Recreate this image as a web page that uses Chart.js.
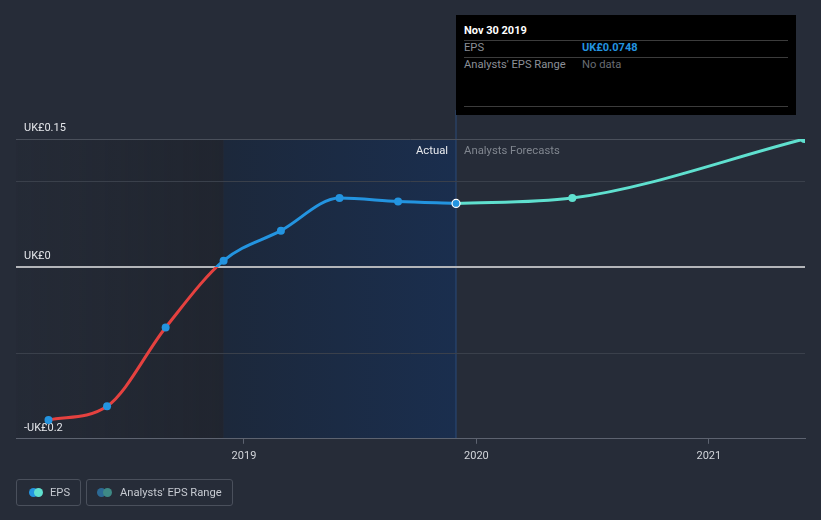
<!DOCTYPE html>
<html>
<head>
<meta charset="utf-8">
<script src="https://cdn.jsdelivr.net/npm/chart.js@4.4.0/dist/chart.umd.min.js"></script>
<style>
body { margin: 0; background: #262c38; font-family: Roboto, sans-serif; }
#wrap { position: relative; width: 821px; height: 520px; overflow: hidden; }
#graph { position: absolute; left: 0; top: 0; }
#tip { position: absolute; left: 456px; top: 15px; width: 340px; height: 100px; background: #000; }
#tip div { position: absolute; font-size: 11.2px; line-height: 14px; white-space: nowrap; }
#tip .sep { left: 8px; width: 324px; height: 1px; background: #3c3c3c; }
.lg { position: absolute; top: 479px; height: 27px; box-sizing: border-box; border: 1px solid #4a505c; border-radius: 3px; }
.lg span { position: absolute; top: 6px; font-size: 11.2px; line-height: 14px; color: #c6cad1; white-space: nowrap; }
.dot { position: absolute; top: 8px; width: 9px; height: 9px; border-radius: 50%; }
</style>
</head>
<body>
<div id="wrap">
  <canvas id="graph" width="821" height="520"></canvas>
  <div id="tip">
    <div style="left:8px;top:9px;color:#fff;font-weight:bold;font-size:11px;">Nov 30 2019</div>
    <div class="sep" style="top:25px"></div>
    <div style="left:8px;top:26px;color:#8b8f97;">EPS</div>
    <div id="tipValue" style="left:126px;top:26px;color:#2394e0;font-weight:bold;font-size:11px;"></div>
    <div class="sep" style="top:42px"></div>
    <div style="left:8px;top:43px;color:#8b8f97;">Analysts' EPS Range</div>
    <div style="left:126px;top:43px;color:#686c73;">No data</div>
    <div class="sep" style="top:91px"></div>
  </div>
  <div class="lg" style="left:16px;width:65px;">
    <div class="dot" style="left:12px;background:#2394e0;"></div>
    <div class="dot" style="left:17px;background:#5fe0cf;"></div>
    <span style="left:33px;">EPS</span>
  </div>
  <div class="lg" style="left:86px;width:147px;">
    <div class="dot" style="left:10px;background:#2c6994;"></div>
    <div class="dot" style="left:16px;background:#3e8985;"></div>
    <span style="left:33px;">Analysts' EPS Range</span>
  </div>
</div>
<script>
var actualDates = ['2018-02-28', '2018-05-31', '2018-08-31', '2018-11-30', '2019-02-28', '2019-05-31', '2019-08-31', '2019-11-30'];
var actualEps = [-0.178, -0.162, -0.070, 0.008, 0.043, 0.081, 0.077, 0.0748];
var forecastDates = ['2019-11-30', '2020-05-31', '2021-05-31'];
var forecastEps = [0.0748, 0.081, 0.150];
var xStart = '2018-01-08';
var xEnd = '2021-06-01';
var xTickYears = [2019, 2020, 2021];
var yTickValues = [-0.2, -0.1, 0, 0.1, 0.15];
var yTickLabels = {'0.15': 'UK£0.15', '0': 'UK£0', '-0.2': '-UK£0.2'};

var blue = '#2394e0', red = '#e5413f', teal = '#5fe0cf';

function toYear(s) {
  var d = Date.parse(s + 'T00:00:00Z');
  var y = new Date(d).getUTCFullYear();
  var a = Date.UTC(y, 0, 1), b = Date.UTC(y + 1, 0, 1);
  return y + (d - a) / (b - a);
}
function points(dates, vals) {
  return dates.map(function (d, i) { return {x: toYear(d), y: vals[i]}; });
}

document.getElementById('tipValue').textContent = 'UK£' + actualEps[actualEps.length - 1];

var pastStart = toYear(actualDates[3]);
var nowX = toYear(actualDates[actualDates.length - 1]);

var bands = {
  id: 'bands',
  beforeDraw: function (chart) {
    var ctx = chart.ctx, a = chart.chartArea, x = chart.scales.x;
    var x1 = x.getPixelForValue(pastStart), x2 = x.getPixelForValue(nowX);
    ctx.save();
    var g1 = ctx.createLinearGradient(a.left, 0, x1, 0);
    g1.addColorStop(0, 'rgba(20,22,28,0.05)');
    g1.addColorStop(1, 'rgba(20,22,28,0.3)');
    ctx.fillStyle = g1;
    ctx.fillRect(a.left, a.top, x1 - a.left, a.bottom - a.top);
    var g2 = ctx.createLinearGradient(x1, 0, x2, 0);
    g2.addColorStop(0, '#1c283b');
    g2.addColorStop(1, '#1a2e4e');
    ctx.fillStyle = g2;
    ctx.fillRect(x1, a.top, x2 - x1, a.bottom - a.top);
    ctx.fillStyle = '#2b4a78';
    ctx.fillRect(Math.round(x2) - 0.5, 110, 1, a.bottom - 110);
    ctx.restore();
  },
  afterDraw: function (chart) {
    var ctx = chart.ctx, a = chart.chartArea;
    var x2 = chart.scales.x.getPixelForValue(nowX);
    ctx.save();
    ctx.font = '11.3px Roboto';
    ctx.textBaseline = 'middle';
    ctx.textAlign = 'right';
    ctx.fillStyle = '#e8eaee';
    ctx.fillText('Actual', x2 - 8, a.top + 12);
    ctx.textAlign = 'left';
    ctx.fillStyle = '#80868f';
    ctx.fillText('Analysts Forecasts', x2 + 8, a.top + 12);
    ctx.restore();
  }
};

function actualColor(context) {
  var chart = context.chart, a = chart.chartArea;
  if (!a) return blue;
  var y0 = chart.scales.y.getPixelForValue(0);
  var s = (y0 - a.top) / (a.bottom - a.top);
  var g = chart.ctx.createLinearGradient(0, a.top, 0, a.bottom);
  g.addColorStop(0, blue);
  g.addColorStop(s, blue);
  g.addColorStop(s, red);
  g.addColorStop(1, red);
  return g;
}

new Chart('graph', {
  type: 'line',
  data: {
    datasets: [{
      data: points(actualDates, actualEps),
      borderColor: actualColor,
      borderWidth: 3,
      cubicInterpolationMode: 'monotone',
      pointRadius: 4,
      pointBackgroundColor: blue,
      pointBorderColor: actualEps.map(function (v, i) { return i === actualEps.length - 1 ? '#ffffff' : blue; }),
      pointBorderWidth: actualEps.map(function (v, i) { return i === actualEps.length - 1 ? 1.2 : 0; })
    }, {
      data: points(forecastDates, forecastEps),
      borderColor: teal,
      borderWidth: 3,
      cubicInterpolationMode: 'monotone',
      pointRadius: [0, 4, 4],
      pointBackgroundColor: teal,
      pointBorderWidth: 0
    }]
  },
  options: {
    responsive: false,
    animation: false,
    events: [],
    layout: {padding: {left: 0, right: 16, top: 139, bottom: 51}},
    plugins: {legend: {display: false}, tooltip: {enabled: false}},
    scales: {
      x: {
        type: 'linear',
        min: toYear(xStart),
        max: toYear(xEnd),
        afterBuildTicks: function (s) { s.ticks = xTickYears.map(function (v) { return {value: v}; }); },
        ticks: {color: '#d2d5da', font: {family: 'Roboto', size: 11}, padding: 6, callback: function (v) { return String(v); }},
        grid: {drawOnChartArea: false, drawTicks: true, tickLength: 5, color: '#5d6370'},
        border: {display: true, color: '#5d6370', width: 1}
      },
      y: {
        min: -0.2,
        max: 0.15,
        afterBuildTicks: function (s) { s.ticks = yTickValues.map(function (v) { return {value: v}; }); },
        ticks: {
          mirror: true, padding: 8, labelOffset: -11,
          color: '#e4e6ea', font: {family: 'Roboto', size: 11},
          callback: function (v) { var k = String(Math.round(v * 100) / 100); return yTickLabels[k] || ''; }
        },
        grid: {
          drawTicks: false,
          color: function (c) {
            var v = c.tick.value;
            if (v === 0) return '#b3b5b9';
            if (v === -0.2) return 'rgba(0,0,0,0)';
            if (v === 0.15) return '#4a505b';
            return '#3a404b';
          },
          lineWidth: function (c) { return c.tick.value === 0 ? 2 : 1; }
        },
        border: {display: false}
      }
    }
  },
  plugins: [bands]
});
</script>
</body>
</html>
